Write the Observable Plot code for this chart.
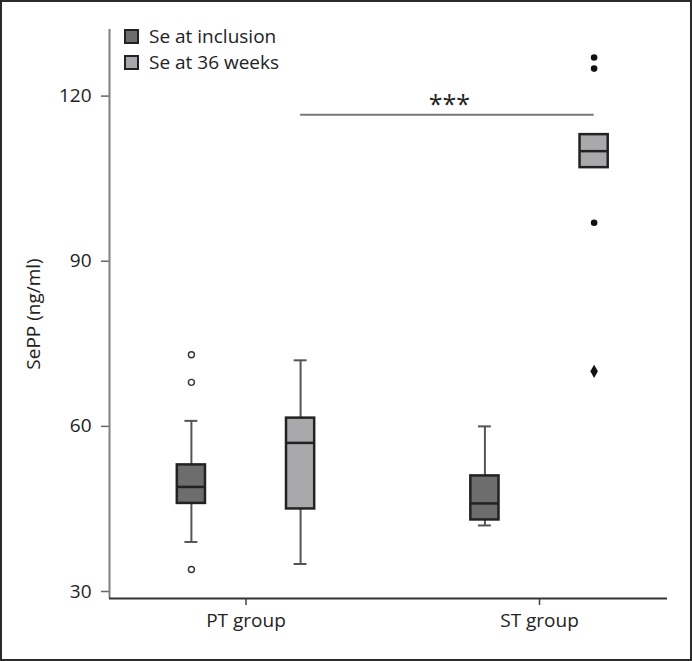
<!DOCTYPE html>
<html>
<head>
<meta charset="utf-8">
<script src="https://cdn.jsdelivr.net/npm/d3@7"></script>
<script src="https://cdn.jsdelivr.net/npm/@observablehq/plot@0.6"></script>
<style>
  html, body { margin: 0; padding: 0; background: #fff; }
  #wrap { position: relative; width: 692px; height: 661px; overflow: hidden; font-family: "Open Sans", "Noto Sans", sans-serif; }
  #frame { position: absolute; left: 0; top: 0; width: 692px; height: 661px; box-sizing: border-box; border: 2px solid #2b2b2b; pointer-events: none; }
  #chart { position: absolute; left: 0; top: 0; }
  #legend { position: absolute; left: 124px; top: 23px; font-size: 19px; color: #222; }
  .item { display: flex; align-items: center; height: 26px; }
  .sw { width: 11px; height: 11px; border: 2px solid #222; margin-right: 10px; }
</style>
</head>
<body>
<div id="wrap">
  <div id="chart"></div>
  <div id="legend"></div>
  <div id="frame"></div>
</div>
<script>
// ---- data ----
const groups = ["PT group", "ST group"];
const series = ["Se at inclusion", "Se at 36 weeks"];
const seriesColors = ["#6d6d6d", "#a9a9ac"];

const boxGroup    = ["PT group", "PT group", "ST group", "ST group"];
const boxSeries   = ["Se at inclusion", "Se at 36 weeks", "Se at inclusion", "Se at 36 weeks"];
const whiskerLow  = [39, 35, 42, 107];
const q1          = [46, 45, 43, 107];
const median      = [49, 57, 46, 110];
const q3          = [53, 61.5, 51, 113];
const whiskerHigh = [61, 72, 60, 113];

const outlierGroup  = ["PT group", "PT group", "PT group", "ST group", "ST group", "ST group", "ST group"];
const outlierSeries = ["Se at inclusion", "Se at inclusion", "Se at inclusion", "Se at 36 weeks", "Se at 36 weeks", "Se at 36 weeks", "Se at 36 weeks"];
const outlierValue  = [73, 68, 34, 127, 125, 97, 70];
const outlierType   = ["open", "open", "open", "filled", "filled", "filled", "diamond"];

const sigLabel = "***";
const sigFrom = "PT group", sigTo = "ST group", sigSeries = "Se at 36 weeks";
const sigValue = 116.6;

const yTicks = [30, 60, 90, 120];
const yLabel = "SePP (ng/ml)";

// ---- layout (x units: group index) ----
const dodge = 0.186, boxHalf = 0.048, capHalf = 0.022;
const xDomain = [-0.465, 1.436];
const yDomain = [28.73, 132.1];
const pos = (g, s) => groups.indexOf(g) + (s === series[0] ? -dodge : dodge);
const color = s => seriesColors[series.indexOf(s)];

const boxes = boxGroup.map((g, i) => ({
  g, s: boxSeries[i], x: pos(g, boxSeries[i]),
  lo: whiskerLow[i], q1: q1[i], med: median[i], q3: q3[i], hi: whiskerHigh[i]
}));
const outliers = outlierGroup.map((g, i) => ({
  x: pos(g, outlierSeries[i]), v: outlierValue[i], t: outlierType[i]
}));
const sig = [{x1: pos(sigFrom, sigSeries), x2: pos(sigTo, sigSeries), y: sigValue, label: sigLabel}];

const font = "Open Sans, Noto Sans, sans-serif";

const chart = Plot.plot({
  width: 692, height: 661,
  marginLeft: 109, marginRight: 25, marginTop: 29, marginBottom: 63,
  style: {fontFamily: font, color: "#222", background: "transparent"},
  x: {type: "linear", domain: xDomain},
  y: {domain: yDomain},
  marks: [
    Plot.axisY({ticks: yTicks, tickSize: 8, tickPadding: 10, fontSize: 19, stroke: "#666", strokeWidth: 1.5, label: null}),
    Plot.text([yLabel], {frameAnchor: "left", rotate: -90, dx: -76, fontSize: 19, fill: "#222",
      textAnchor: "middle", lineAnchor: "middle"}),
    Plot.axisX({ticks: [0, 1], tickFormat: i => groups[i], tickSize: 7, tickPadding: 8, fontSize: 19,
      stroke: "#444", strokeWidth: 1.5, label: null}),
    Plot.ruleX([xDomain[0]], {stroke: "#808080", strokeWidth: 2}),
    Plot.ruleY([yDomain[0]], {stroke: "#333", strokeWidth: 2}),
    // whiskers
    Plot.ruleX(boxes, {x: "x", y1: "q3", y2: "hi", stroke: "#555", strokeWidth: 2}),
    Plot.ruleX(boxes, {x: "x", y1: "lo", y2: "q1", stroke: "#555", strokeWidth: 2}),
    Plot.ruleY(boxes.filter(d => d.hi > d.q3), {y: "hi", x1: d => d.x - capHalf, x2: d => d.x + capHalf, stroke: "#555", strokeWidth: 2}),
    Plot.ruleY(boxes.filter(d => d.lo < d.q1), {y: "lo", x1: d => d.x - capHalf, x2: d => d.x + capHalf, stroke: "#555", strokeWidth: 2}),
    // boxes
    Plot.rect(boxes, {x1: d => d.x - boxHalf, x2: d => d.x + boxHalf, y1: "q1", y2: "q3",
      fill: d => color(d.s), stroke: "#222", strokeWidth: 2.5}),
    Plot.ruleY(boxes, {y: "med", x1: d => d.x - boxHalf, x2: d => d.x + boxHalf, stroke: "#222", strokeWidth: 2.5}),
    // outliers
    Plot.dot(outliers.filter(d => d.t === "open"), {x: "x", y: "v", r: 3, fill: "white", stroke: "#333", strokeWidth: 1.4}),
    Plot.dot(outliers.filter(d => d.t === "filled"), {x: "x", y: "v", r: 3.3, fill: "#111", stroke: "none"}),
    Plot.dot(outliers.filter(d => d.t === "diamond"), {x: "x", y: "v", r: 4, symbol: "diamond", fill: "#111", stroke: "none"}),
    // significance
    Plot.ruleY(sig, {y: "y", x1: "x1", x2: "x2", stroke: "#777", strokeWidth: 2}),
    Plot.text(sig, {x: d => (d.x1 + d.x2) / 2, y: "y", text: "label", lineAnchor: "bottom", dy: -2, dx: 2,
      fontSize: 25, fill: "#222", style: "letter-spacing:4px"})
  ]
});
document.getElementById("chart").appendChild(chart);

// legend
const legend = document.getElementById("legend");
series.forEach((s, i) => {
  const it = document.createElement("div");
  it.className = "item";
  const sw = document.createElement("span");
  sw.className = "sw";
  sw.style.background = seriesColors[i];
  const tx = document.createElement("span");
  tx.textContent = s;
  it.appendChild(sw); it.appendChild(tx);
  legend.appendChild(it);
});
</script>
</body>
</html>
